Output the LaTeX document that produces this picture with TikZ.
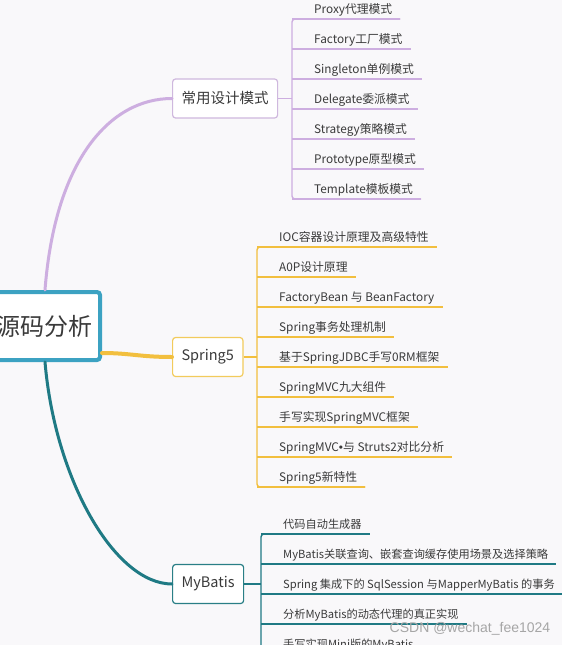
\documentclass[tikz,border=0pt]{standalone}
\usepackage{fontspec}
\setmainfont{Noto Sans CJK SC}
\newfontfamily\markfont{Liberation Sans}
\usetikzlibrary{positioning}
\definecolor{bgcol}{HTML}{F9F8FA}
\definecolor{txt}{HTML}{3A3A3A}
\definecolor{rootc}{HTML}{3CA2C2}
\definecolor{lavline}{HTML}{CDAEE0}
\definecolor{lavbox}{HTML}{CFB8DE}
\definecolor{goldline}{HTML}{F2BF3E}
\definecolor{goldbox}{HTML}{F2CB5C}
\definecolor{tealline}{HTML}{1F7A84}
\definecolor{tealbox}{HTML}{2A7F86}
\tikzset{
    root/.style={
        draw=rootc,
        line width=4pt,
        rounded corners=3pt,
        fill=white,
        minimum width=110pt,
        minimum height=68pt,
        text=txt,
        font=\fontsize{24}{28}\selectfont
    },
    topic/.style={
        draw=#1,
        line width=1.2pt,
        rounded corners=3pt,
        fill=white,
        anchor=west,
        minimum height=39pt,
        inner xsep=9pt,
        text=txt,
        font=\fontsize{14.5}{17}\selectfont
    },
    leaf/.style={
        anchor=south west,
        inner xsep=8pt,
        inner ysep=3pt,
        text height=9pt,
        text depth=2.5pt,
        text=txt,
        font=\fontsize{11.8}{14}\selectfont
    },
    small leaf/.style={
        leaf,
        font=\fontsize{11.2}{14}\selectfont
    },
    branch/.style={
        draw=#1,
        line width=3pt,
        line cap=round
    },
    twig/.style={
        draw=#1,
        line width=1.4pt
    },
    wmark/.style={
        text=gray!70,
        font=\markfont\fontsize{14}{16}\selectfont
    }
}

\begin{document}
\begin{tikzpicture}[x=1pt, y=-1pt]

\fill[bgcol] (0,0) rectangle (562,645);
\useasboundingbox (0,0) rectangle (562,645);

% main topics
\node (root) [root] at (45,326) {源码分析};
\node (design) [topic=lavbox] at (172,98.5) {常用设计模式};
\node (spring) [topic=goldbox] at (172,357) {Spring5};
\node (mybatis) [topic=tealbox] at (172,584) {MyBatis};

\draw [branch=lavline] (root.north) .. controls (55,160) and (110,98.5) .. (design.west);
\draw [branch=goldline, line width=4pt] ([yshift=-27pt]root.east) .. controls (130,353) and (140,357) .. (spring.west);
\draw [branch=tealline] (root.south) .. controls (55,480) and (115,584) .. (mybatis.west);

% design patterns
\foreach \txt [count=\i] in {Proxy代理模式, Factory工厂模式, Singleton单例模式, Delegate委派模式, Strategy策略模式, Prototype原型模式, Template模板模式}
    \node (d\i) [leaf] at (306,{19+30*(\i-1)}) {\txt};
\foreach \i in {1,...,7}
    \draw [twig=lavline] (292,{19+30*(\i-1)}) -- (d\i.south east);
\draw [twig=lavline, rounded corners=3pt] (d1.south east) -- (292,19) -- (292,199) -- (d7.south east);
\draw [twig=lavline] (design.east) -- (292,98.5);

% spring
\foreach \txt [count=\i] in {IOC容器设计原理及高级特性, A0P设计原理, FactoryBean 与 BeanFactory, Spring事务处理机制, 基于SpringJDBC手写0RM框架, SpringMVC九大组件, 手写实现SpringMVC框架, SpringMVC{\markfont•}与 Struts2对比分析, Spring5新特性}
    \node (s\i) [leaf] at (271,{247+30*(\i-1)}) {\txt};
\foreach \i in {1,...,9}
    \draw [twig=goldline] (257,{247+30*(\i-1)}) -- (s\i.south east);
\draw [twig=goldline, rounded corners=3pt] (s1.south east) -- (257,247) -- (257,487) -- (s9.south east);
\draw [twig=goldline] (spring.east) -- (257,357);

% mybatis
\foreach \txt [count=\i] in {代码自动生成器, MyBatis关联查询、嵌套查询缓存使用场景及选择策略, Spring 集成下的 SqlSession 与MapperMyBatis 的事务, 分析MyBatis的动态代理的真正实现, 手写实现Mini版的MyBatis}
    \node (m\i) [small leaf] at (275,{534+30*(\i-1)}) {\txt};
\foreach \i in {1,...,5}
    \draw [twig=tealline] (261,{534+30*(\i-1)}) -- (m\i.south east);
\draw [twig=tealline, rounded corners=3pt] (m1.south east) -- (261,534) -- (261,654) -- (m5.south east);
\draw [twig=tealline] (mybatis.east) -- (261,584);

\node (wm) [wmark] at (470,629) {CSDN @wechat\_fee1024};

\end{tikzpicture}
\end{document}
